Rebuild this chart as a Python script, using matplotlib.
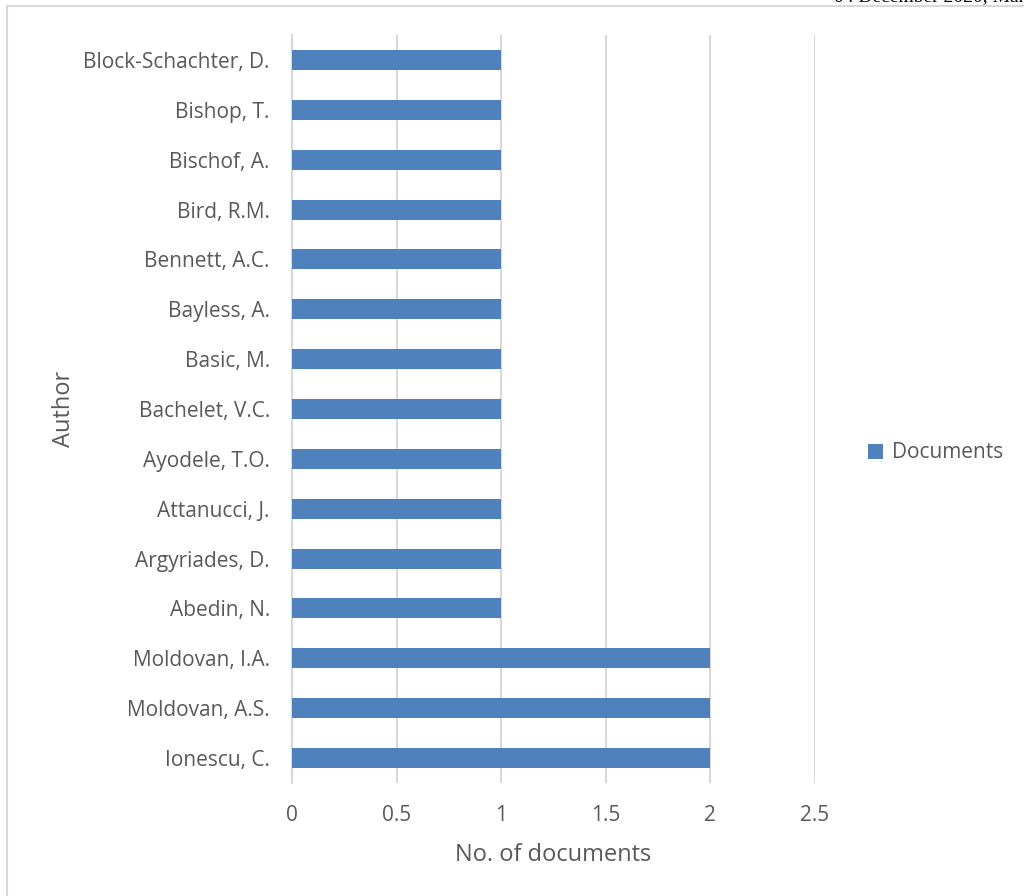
import matplotlib
matplotlib.use("Agg")
import matplotlib.pyplot as plt
from matplotlib.patches import Rectangle

authors = [
    "Ionescu, C.", "Moldovan, A.S.", "Moldovan, I.A.", "Abedin, N.",
    "Argyriades, D.", "Attanucci, J.", "Ayodele, T.O.", "Bachelet, V.C.",
    "Basic, M.", "Bayless, A.", "Bennett, A.C.", "Bird, R.M.",
    "Bischof, A.", "Bishop, T.", "Block-Schachter, D.",
]
documents = [2, 2, 2, 1, 1, 1, 1, 1, 1, 1, 1, 1, 1, 1, 1]
x_ticks = [0, 0.5, 1, 1.5, 2, 2.5]
x_tick_labels = ["0", "0.5", "1", "1.5", "2", "2.5"]

plt.rcParams["font.family"] = ["Open Sans", "DejaVu Sans"]
text_color = "#595959"
grid_color = "#d9d9d9"
bar_color = "#4f81bd"

W, H = 1024, 896
fig = plt.figure(figsize=(W / 100, H / 100), dpi=100)

# chart frame
fig.patches.append(Rectangle((7 / W, -0.01), 1.1, (H - 6) / H + 0.01,
                             transform=fig.transFigure, fill=False,
                             edgecolor=grid_color, linewidth=1.5))

# running header cut at the page edge
fig.text(1.0 + 4 / W, 1.0 + 3 / H, "04 December 2020, Man", ha="right",
         va="center", family="Liberation Serif", fontsize=14, color="black")

ax = fig.add_axes([292 / W, 1 - 783 / H, (815 - 292) / W, (783 - 35) / H])
y = list(range(len(authors)))
ax.barh(y, documents, height=0.4, color=bar_color, label="Documents", zorder=3)
ax.set_xlim(0, 2.5)
ax.set_ylim(-0.5, len(authors) - 0.5)
ax.set_yticks(y)
ax.set_yticklabels(authors)
ax.set_xticks(x_ticks)
ax.set_xticklabels(x_tick_labels)
ax.grid(axis="x", color=grid_color, linewidth=1.5, zorder=0)
for s in ["top", "right", "bottom"]:
    ax.spines[s].set_visible(False)
ax.spines["left"].set_color(grid_color)
ax.spines["left"].set_linewidth(1.5)
ax.tick_params(axis="both", length=0, labelsize=15, colors=text_color)
ax.tick_params(axis="x", pad=16)
ax.tick_params(axis="y", pad=16)

ax.set_xlabel("No. of documents", fontsize=17, color=text_color, labelpad=12)
ax.set_ylabel("Author", fontsize=17, color=text_color, labelpad=5)

ax.legend(loc="center left", bbox_to_anchor=(849 / W, 1 - 453 / H),
          bbox_transform=fig.transFigure, frameon=False, fontsize=15,
          labelcolor=text_color, handlelength=0.75, handleheight=0.75,
          handletextpad=0.4)

fig.savefig("out.png", dpi=100)
